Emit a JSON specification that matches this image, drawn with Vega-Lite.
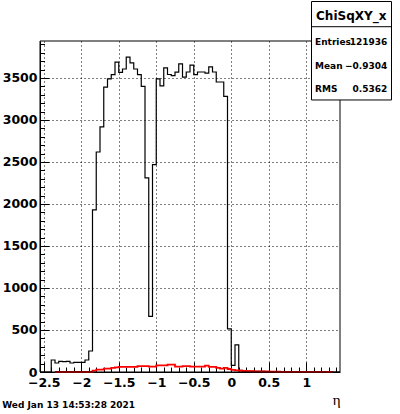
{
  "$schema": "https://vega.github.io/schema/vega-lite/v6.json",
  "width": 300,
  "height": 331,
  "autosize": "none",
  "padding": {"left": 40, "top": 41, "right": 60, "bottom": 42},
  "background": "white",
  "title": {"text": "Wed Jan 13 14:53:28 2021", "orient": "bottom", "anchor": "start", "frame": "bounds", "font": "DejaVu Sans", "fontSize": 9, "fontWeight": "bold", "color": "black", "offset": 0, "baseline": "alphabetic"},
  "datasets": {
    "black": [
      {"eta": -2.55, "count": 0}, {"eta": -2.5, "count": 0}, {"eta": -2.45, "count": 0},
      {"eta": -2.4, "count": 143}, {"eta": -2.35, "count": 107}, {"eta": -2.3, "count": 127}, {"eta": -2.25, "count": 124},
      {"eta": -2.2, "count": 127}, {"eta": -2.15, "count": 107}, {"eta": -2.1, "count": 115}, {"eta": -2.05, "count": 115},
      {"eta": -2.0, "count": 115}, {"eta": -1.95, "count": 143}, {"eta": -1.9, "count": 250}, {"eta": -1.85, "count": 1929},
      {"eta": -1.8, "count": 2619}, {"eta": -1.75, "count": 2917}, {"eta": -1.7, "count": 3390}, {"eta": -1.65, "count": 3488},
      {"eta": -1.6, "count": 3539}, {"eta": -1.55, "count": 3688}, {"eta": -1.5, "count": 3567}, {"eta": -1.45, "count": 3607},
      {"eta": -1.4, "count": 3748}, {"eta": -1.35, "count": 3679}, {"eta": -1.3, "count": 3607}, {"eta": -1.25, "count": 3539},
      {"eta": -1.2, "count": 3400}, {"eta": -1.15, "count": 2310}, {"eta": -1.1, "count": 662}, {"eta": -1.05, "count": 2468},
      {"eta": -1.0, "count": 3490}, {"eta": -0.95, "count": 3405}, {"eta": -0.9, "count": 3619}, {"eta": -0.85, "count": 3541},
      {"eta": -0.8, "count": 3527}, {"eta": -0.75, "count": 3569}, {"eta": -0.7, "count": 3667}, {"eta": -0.65, "count": 3510},
      {"eta": -0.6, "count": 3571}, {"eta": -0.55, "count": 3654}, {"eta": -0.5, "count": 3539}, {"eta": -0.45, "count": 3571},
      {"eta": -0.4, "count": 3571}, {"eta": -0.35, "count": 3557}, {"eta": -0.3, "count": 3632}, {"eta": -0.25, "count": 3571},
      {"eta": -0.2, "count": 3452}, {"eta": -0.15, "count": 3452}, {"eta": -0.1, "count": 3281}, {"eta": -0.05, "count": 513},
      {"eta": 0.0, "count": 78}, {"eta": 0.05, "count": 322}, {"eta": 0.1, "count": 19}, {"eta": 0.15, "count": 12},
      {"eta": 0.2, "count": 10}, {"eta": 0.25, "count": 9}, {"eta": 0.3, "count": 8}, {"eta": 0.35, "count": 8},
      {"eta": 0.4, "count": 7}, {"eta": 0.45, "count": 6}, {"eta": 0.5, "count": 5}, {"eta": 0.55, "count": 4},
      {"eta": 0.6, "count": 4}, {"eta": 0.65, "count": 2}, {"eta": 0.7, "count": 1}, {"eta": 0.75, "count": 1},
      {"eta": 0.8, "count": 1}, {"eta": 0.85, "count": 0}, {"eta": 0.9, "count": 0}, {"eta": 0.95, "count": 0},
      {"eta": 1.0, "count": 0}, {"eta": 1.05, "count": 0}, {"eta": 1.1, "count": 0}, {"eta": 1.15, "count": 0},
      {"eta": 1.2, "count": 0}, {"eta": 1.25, "count": 0}, {"eta": 1.3, "count": 0}, {"eta": 1.35, "count": 0},
      {"eta": 1.4, "count": 0}, {"eta": 1.45, "count": 0}
    ],
    "red": [
      {"eta": -2.35, "count": 0}, {"eta": -2.3, "count": 0}, {"eta": -2.25, "count": 0}, {"eta": -2.2, "count": 0},
      {"eta": -2.15, "count": 0}, {"eta": -2.1, "count": 0}, {"eta": -2.05, "count": 0}, {"eta": -2.0, "count": 0},
      {"eta": -1.95, "count": 0}, {"eta": -1.9, "count": 0}, {"eta": -1.85, "count": 16}, {"eta": -1.8, "count": 28},
      {"eta": -1.75, "count": 28}, {"eta": -1.7, "count": 40}, {"eta": -1.65, "count": 40}, {"eta": -1.6, "count": 48},
      {"eta": -1.55, "count": 56}, {"eta": -1.5, "count": 62}, {"eta": -1.45, "count": 60}, {"eta": -1.4, "count": 60},
      {"eta": -1.35, "count": 60}, {"eta": -1.3, "count": 60}, {"eta": -1.25, "count": 71}, {"eta": -1.2, "count": 71},
      {"eta": -1.15, "count": 71}, {"eta": -1.1, "count": 63}, {"eta": -1.05, "count": 63}, {"eta": -1.0, "count": 79},
      {"eta": -0.95, "count": 79}, {"eta": -0.9, "count": 79}, {"eta": -0.85, "count": 87}, {"eta": -0.8, "count": 87},
      {"eta": -0.75, "count": 63}, {"eta": -0.7, "count": 63}, {"eta": -0.65, "count": 71}, {"eta": -0.6, "count": 71},
      {"eta": -0.55, "count": 63}, {"eta": -0.5, "count": 63}, {"eta": -0.45, "count": 63}, {"eta": -0.4, "count": 63},
      {"eta": -0.35, "count": 75}, {"eta": -0.3, "count": 60}, {"eta": -0.25, "count": 60}, {"eta": -0.2, "count": 48},
      {"eta": -0.15, "count": 40}, {"eta": -0.1, "count": 48}, {"eta": -0.05, "count": 36}, {"eta": 0.0, "count": 25},
      {"eta": 0.05, "count": 19}, {"eta": 0.1, "count": 15}, {"eta": 0.15, "count": 12}, {"eta": 0.2, "count": 10},
      {"eta": 0.25, "count": 9}, {"eta": 0.3, "count": 8}, {"eta": 0.35, "count": 7}, {"eta": 0.4, "count": 6},
      {"eta": 0.45, "count": 6}, {"eta": 0.5, "count": 5}, {"eta": 0.55, "count": 4}, {"eta": 0.6, "count": 3},
      {"eta": 0.65, "count": 2}, {"eta": 0.7, "count": 2}, {"eta": 0.75, "count": 2}, {"eta": 0.8, "count": 2},
      {"eta": 0.85, "count": 2}, {"eta": 0.9, "count": 2}, {"eta": 0.95, "count": 2}, {"eta": 1.0, "count": 2},
      {"eta": 1.05, "count": 1}, {"eta": 1.1, "count": 1}, {"eta": 1.15, "count": 1}, {"eta": 1.2, "count": 1},
      {"eta": 1.25, "count": 1}, {"eta": 1.3, "count": 1}, {"eta": 1.35, "count": 0}
    ]
  },
  "resolve": {"axis": {"x": "independent", "y": "independent"}},
  "layer": [
    {
      "data": {"name": "black"},
      "mark": {"type": "line", "interpolate": "step-after", "color": "black", "strokeWidth": 1.2},
      "encoding": {
        "x": {
          "field": "eta", "type": "quantitative",
          "scale": {"domain": [-2.55, 1.45], "nice": false, "zero": false},
          "axis": {
            "orient": "bottom",
            "values": [-2.5, -2, -1.5, -1, -0.5, 0, 0.5, 1],
            "format": "~g",
            "title": "η", "titleFont": "Liberation Serif", "titleFontSize": 15, "titleFontWeight": "normal", "titleColor": "black",
            "titleAnchor": "end", "titleAlign": "right", "titlePadding": 4,
            "labelFont": "DejaVu Sans", "labelFontWeight": "bold", "labelFontSize": 12.5, "labelColor": "black",
            "labelPadding": 14, "labelOverlap": false, "labelFlush": false, "labelBound": false,
            "tickSize": -10, "tickColor": "black", "tickWidth": 1,
            "grid": true, "gridColor": "black", "gridDash": [1, 3], "gridWidth": 1, "gridOpacity": 1,
            "domainColor": "black", "domainWidth": 1
          }
        },
        "y": {
          "field": "count", "type": "quantitative",
          "scale": {"domain": [0, 3940], "nice": false},
          "axis": {
            "orient": "left",
            "values": [0, 500, 1000, 1500, 2000, 2500, 3000, 3500],
            "format": "d",
            "title": null,
            "labelFont": "DejaVu Sans", "labelFontWeight": "bold", "labelFontSize": 12.5, "labelColor": "black",
            "labelPadding": 12, "labelOverlap": false, "labelFlush": false, "labelBound": false,
            "tickSize": -9, "tickColor": "black", "tickWidth": 1,
            "grid": true, "gridColor": "black", "gridDash": [1, 3], "gridWidth": 1, "gridOpacity": 1,
            "domainColor": "black", "domainWidth": 1
          }
        }
      }
    },
    {
      "data": {"name": "red"},
      "mark": {"type": "line", "interpolate": "step-after", "color": "#ff0000", "strokeWidth": 1.8},
      "encoding": {
        "x": {
          "field": "eta", "type": "quantitative",
          "axis": {
            "orient": "bottom",
            "values": [-2.5,-2.4,-2.3,-2.2,-2.1,-2,-1.9,-1.8,-1.7,-1.6,-1.5,-1.4,-1.3,-1.2,-1.1,-1,-0.9,-0.8,-0.7,-0.6,-0.5,-0.4,-0.3,-0.2,-0.1,0,0.1,0.2,0.3,0.4,0.5,0.6,0.7,0.8,0.9,1,1.1,1.2,1.3,1.4],
            "title": null, "labels": false, "grid": false, "domain": false,
            "tickSize": -5, "tickColor": "black", "tickWidth": 1
          }
        },
        "y": {
          "field": "count", "type": "quantitative",
          "axis": {
            "orient": "left",
            "values": [0,100,200,300,400,500,600,700,800,900,1000,1100,1200,1300,1400,1500,1600,1700,1800,1900,2000,2100,2200,2300,2400,2500,2600,2700,2800,2900,3000,3100,3200,3300,3400,3500,3600,3700,3800,3900],
            "title": null, "labels": false, "grid": false, "domain": false,
            "tickSize": -4.5, "tickColor": "black", "tickWidth": 1
          }
        }
      }
    },
    {
      "data": {"values": [{}]},
      "mark": {"type": "rect", "fillOpacity": 0, "stroke": "black", "strokeWidth": 1},
      "encoding": {
        "x": {"datum": -2.55, "type": "quantitative", "axis": null},
        "x2": {"datum": 1.45},
        "y": {"datum": 0, "type": "quantitative", "axis": null},
        "y2": {"datum": 3940}
      }
    },
    {
      "data": {"values": [{}]},
      "mark": {"type": "rect", "fill": "white", "stroke": "black", "strokeWidth": 1, "clip": false},
      "encoding": {
        "x": {"datum": 1.07, "type": "quantitative", "axis": null},
        "x2": {"datum": 2.1367},
        "y": {"datum": 4410, "type": "quantitative", "axis": null},
        "y2": {"datum": 3238}
      }
    },
    {
      "data": {"values": [{}]},
      "mark": {"type": "rule", "color": "black", "strokeWidth": 1, "clip": false},
      "encoding": {
        "x": {"datum": 1.07, "type": "quantitative", "axis": null},
        "x2": {"datum": 2.1367},
        "y": {"datum": 4110, "type": "quantitative", "axis": null}
      }
    },
    {
      "data": {"values": [{}]},
      "mark": {"type": "text", "text": "ChiSqXY_x", "font": "DejaVu Sans", "fontWeight": "bold", "fontSize": 12, "align": "center", "baseline": "alphabetic", "color": "black", "clip": false},
      "encoding": {
        "x": {"datum": 1.6, "type": "quantitative", "axis": null},
        "y": {"datum": 4190, "type": "quantitative", "axis": null}
      }
    },
    {
      "data": {"values": [{}]},
      "mark": {"type": "text", "text": ["Entries", "Mean", "RMS"], "lineHeight": 23.7, "font": "DejaVu Sans", "fontWeight": "bold", "fontSize": 9, "align": "left", "baseline": "alphabetic", "color": "black", "clip": false},
      "encoding": {
        "x": {"datum": 1.117, "type": "quantitative", "axis": null},
        "y": {"datum": 3892, "type": "quantitative", "axis": null}
      }
    },
    {
      "data": {"values": [{}]},
      "mark": {"type": "text", "text": ["121936", "−0.9304", "0.5362"], "lineHeight": 23.7, "font": "DejaVu Sans", "fontWeight": "bold", "fontSize": 9, "align": "right", "baseline": "alphabetic", "color": "black", "clip": false},
      "encoding": {
        "x": {"datum": 2.081, "type": "quantitative", "axis": null},
        "y": {"datum": 3892, "type": "quantitative", "axis": null}
      }
    }
  ],
  "config": {"view": {"stroke": null}}
}
